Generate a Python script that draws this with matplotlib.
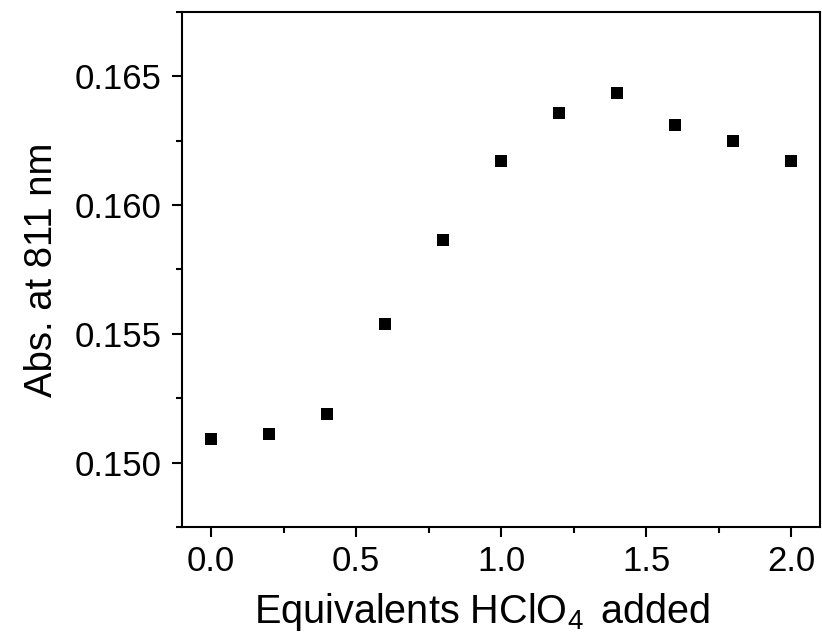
import matplotlib
matplotlib.use("Agg")
import matplotlib.pyplot as plt
from matplotlib.ticker import MultipleLocator, FormatStrFormatter

equivalents = [0.0, 0.2, 0.4, 0.6, 0.8, 1.0, 1.2, 1.4, 1.6, 1.8, 2.0]
absorbance = [0.15092, 0.15113, 0.15190, 0.15540, 0.15864, 0.16171,
              0.16359, 0.16434, 0.16312, 0.16250, 0.16172]

plt.rcParams['font.family'] = ['Liberation Sans', 'DejaVu Sans']
plt.rcParams['mathtext.fontset'] = 'custom'
plt.rcParams['mathtext.rm'] = 'Liberation Sans'
plt.rcParams['mathtext.it'] = 'Liberation Sans'

fig = plt.figure(figsize=(8.22, 6.38), dpi=100)
ax = fig.add_axes([182/822, 1-527/638, (820-182)/822, (527-12)/638])

ax.plot(equivalents, absorbance, linestyle='none', marker='s', markersize=8,
        color='black', markeredgewidth=0)

ax.set_xlim(-0.1, 2.1)
ax.set_ylim(0.1475, 0.1675)
ax.xaxis.set_major_locator(MultipleLocator(0.5))
ax.xaxis.set_minor_locator(MultipleLocator(0.25))
ax.yaxis.set_major_locator(MultipleLocator(0.005))
ax.yaxis.set_minor_locator(MultipleLocator(0.0025))
ax.xaxis.set_major_formatter(FormatStrFormatter('%.1f'))
ax.yaxis.set_major_formatter(FormatStrFormatter('%.3f'))

for s in ax.spines.values():
    s.set_linewidth(1.5)

ax.tick_params(which='major', direction='out', length=7, width=1.5,
               labelsize=25, pad=6, top=False, right=False)
ax.tick_params(which='minor', direction='out', length=4, width=1.5,
               top=False, right=False)
ax.tick_params(axis='y', which='major', pad=8)

ax.set_xlabel(r'Equivalents HClO$_{4}\,$ added', fontsize=28.5, labelpad=10)
ax.xaxis.set_label_coords(0.47, -0.125)
ax.set_ylabel('Abs. at 811 nm', fontsize=27.5, labelpad=10)

fig.savefig('out.png', dpi=100)
